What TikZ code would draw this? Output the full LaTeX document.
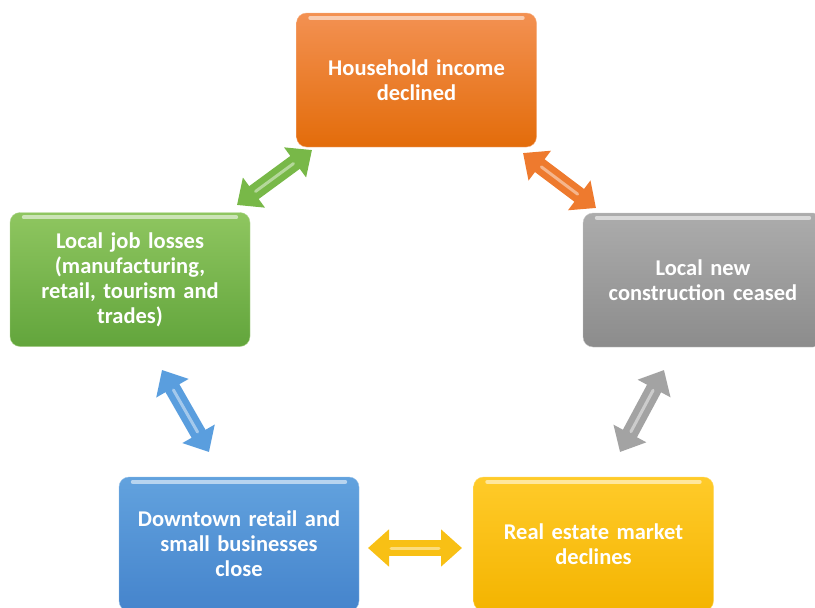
\documentclass[tikz,border=0pt]{standalone}
\usepackage{fontspec}
\setmainfont{Carlito}
\usetikzlibrary{arrows.meta}
\definecolor{orT}{HTML}{F39152}
\definecolor{orB}{HTML}{E36C0A}
\definecolor{grT}{HTML}{8FC660}
\definecolor{grB}{HTML}{62A53C}
\definecolor{gyT}{HTML}{ACACAC}
\definecolor{gyB}{HTML}{8C8C8C}
\definecolor{blT}{HTML}{62A2DE}
\definecolor{blB}{HTML}{4584CC}
\definecolor{yeT}{HTML}{FFCB2A}
\definecolor{yeB}{HTML}{F4B400}
\definecolor{arG}{HTML}{78B848}
\definecolor{arO}{HTML}{EE7A2E}
\definecolor{arB}{HTML}{5A9EDE}
\definecolor{arY}{HTML}{F8C015}
\definecolor{arS}{HTML}{A3A3A3}
\tikzset{
  box/.style={rounded corners=10pt, minimum width=240pt, minimum height=134pt,
    text width=220pt, align=center, text=white,
    font=\fontsize{22.5}{25}\selectfont\bfseries},
  dblarr/.style={line width=16pt,
    {Triangle[length=21pt,width=36pt]}-{Triangle[length=21pt,width=36pt]}},
  shine/.style={white, opacity=0.45, line width=3pt, line cap=round, shorten <=23pt, shorten >=23pt},
  bevel/.style={white, opacity=0.55, line width=4pt, line cap=round}
}
\begin{document}
\begin{tikzpicture}[x=1pt,y=-1pt]
\useasboundingbox (0,0) rectangle (815,608);
\clip (0,0) rectangle (815,608);
\node[box, top color=orT, bottom color=orB, draw=orT!70!white] (inc) at (416.5,80) {Household income\\declined};
\node[box, top color=grT, bottom color=grB, draw=grT!70!white] (job) at (130,279.5) {Local job losses\\(manufacturing,\\retail, tourism and\\trades)};
\node[box, top color=gyT, bottom color=gyB, draw=gyT!70!white, text width=230pt] (con) at (703,280) {Local new\\construction ceased};
\node[box, top color=blT, bottom color=blB, draw=blT!70!white] (dt) at (239,544) {Downtown retail and\\small businesses\\close};
\node[box, top color=yeT, bottom color=yeB, draw=yeT!70!white] (re) at (593.5,544) {Real estate market\\declines};
\foreach \n in {inc,job,con,dt,re}{
  \draw[bevel] ([xshift=14pt,yshift=-5pt]\n.north west) -- ([xshift=-14pt,yshift=-5pt]\n.north east);
}
% arrow end points
\coordinate (g1) at (237,205); \coordinate (g2) at (312,150);
\coordinate (o1) at (523,153); \coordinate (o2) at (596,208);
\coordinate (b1) at (162,370); \coordinate (b2) at (209,452);
\coordinate (s1) at (664,370); \coordinate (s2) at (620,452);
\coordinate (y1) at (368,548); \coordinate (y2) at (462,548);
\draw[dblarr, arG] (g1) -- (g2);
\draw[dblarr, arO] (o1) -- (o2);
\draw[dblarr, arB] (b1) -- (b2);
\draw[dblarr, arS] (s1) -- (s2);
\draw[dblarr, arY] (y1) -- (y2);
\foreach \a/\b in {g1/g2,o1/o2,b1/b2,s1/s2,y1/y2}{
  \draw[shine] (\a) -- (\b);
}
\end{tikzpicture}
\end{document}
